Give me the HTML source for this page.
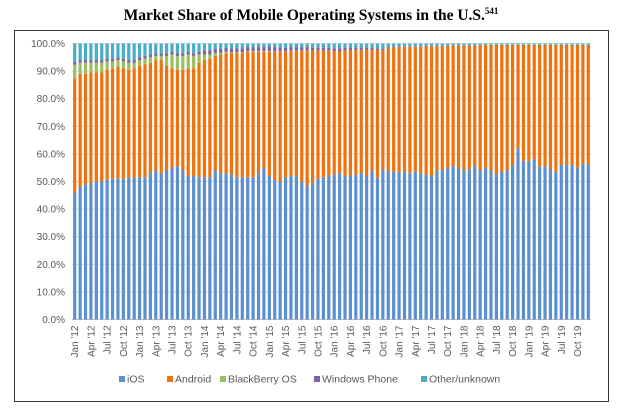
<!DOCTYPE html>
<html><head><meta charset="utf-8"><style>
body{margin:0;background:#fff;}
svg{display:block;font-family:"Liberation Sans",sans-serif;}
</style></head><body>
<svg id="c" width="622" height="412">
<text x="311" y="20" text-anchor="middle" font-family="Liberation Serif,serif" font-weight="bold" font-size="15.5" fill="#000">Market Share of Mobile Operating Systems in the U.S.<tspan font-size="9" dy="-6">541</tspan></text>
<rect x="14.5" y="30.5" width="594" height="371" fill="none" stroke="#333" stroke-width="1"/>
<g id="grid"></g><g id="bars"></g><g id="xl"></g><g id="legend"></g>
</svg>
<script>
const months=["Jan","Feb","Mar","Apr","May","Jun","Jul","Aug","Sep","Oct","Nov","Dec"];
const years=[12,13,14,15,16,17,18,19];
const yTicks=[0,10,20,30,40,50,60,70,80,90,100];
const ios=[46,48,49,49.5,50,50,50.5,51,51,51,51.5,51.5,
51.5,51.5,53,54,53,54,55,55.5,54,52,52,51.5,
51.5,51.5,54,53,53,52.5,51.5,51.5,51.5,51.5,53,55,
52,50.5,50,51.5,52,52,50,48.5,49.5,51,51.5,52,
52.5,53,52,52,52.5,53,52,54,51.5,54.5,53.5,53.5,
53.5,53.5,53,53.5,53,52.5,52,54,54,55,55.5,55,
54,54.5,56,54,55,54,52.5,53.5,54,56,62,57.5,
57.5,58,55.5,55.5,54.5,53.5,56,56,56,55,56.5,56];
const iosAndroidTop=[87.3,89,89,89.5,89.5,89.5,90.5,91,91.5,91,90.5,91,
92,92.5,93,94,94,92,91,90.5,90.5,91,91,93,
94,94.5,95.5,96,96.5,96.5,96.5,96.5,97,97,97,97,
97,97,97,97,97.3,97.3,97.3,97.5,97.5,97.5,97.5,97.5,
97.3,97.3,97.5,97.7,97.7,97.7,97.8,97.8,97.8,97.5,98.5,98.5,
98.7,98.8,98.8,98.8,98.8,99,99,99,99,99.2,99.2,99.2,
99.2,99.3,99.3,99.4,99.5,99.5,99.5,99.5,99.5,99.5,99.5,99.5,
99.5,99.5,99.5,99.5,99.5,99.5,99.5,99.5,99.5,99.5,99.5,99.5];
const blackberry=[5,4,4,3.5,3.5,3.5,3,2.5,2.5,2.5,2.5,2,
2,2,2,1.5,1.5,3.5,5,5,5,5,4.5,3,
2,1.5,1,0.5,0.5,0.3,0.3,0.3,0.2,0.2,0.2,0.2,
0.2,0.1,0.1,0.1,0.1,0.1,0.1,0.1,0,0,0,0,
0,0,0,0,0,0,0,0,0,0,0,0,0,0,0,0,0,0,0,0,0,0,0,0,
0,0,0,0,0,0,0,0,0,0,0,0,0,0,0,0,0,0,0,0,0,0,0,0];
const windows=[1,1,1,1,1,1,1,1,1,1,1,1,
1,1,1,1,1,1,1,1,1,1,1,1,
1.5,1.5,1.5,1.5,1.5,1.5,1.5,1.5,1.5,1.5,1.5,1.5,
1.7,1.7,1.5,1.3,1.3,1.3,1.3,1.2,1,1,1,1,
1,1,1,0.8,0.8,0.8,0.7,0.7,0.5,0.5,0.3,0.3,
0.3,0.2,0.2,0.2,0.2,0.2,0.1,0.1,0.1,0.1,0.1,0.1,
0,0,0,0,0,0,0,0,0,0,0,0,0,0,0,0,0,0,0,0,0,0,0,0];
const seriesNames=["iOS","Android","BlackBerry OS","Windows Phone","Other/unknown"];
const colors=["#5b8fcf","#f0720d","#9bc061","#8064a2","#4bacc6"];
const NS="http://www.w3.org/2000/svg";
const X0=72,X1=591,Y0=319.5,Y100=43.5;
const n=ios.length,slot=(X1-X0)/n;
const y=v=>Y0-(Y0-Y100)*v/100;
const xc=i=>X0+slot*(i+0.5);
function mk(t,a,p){const e=document.createElementNS(NS,t);for(const k in a)e.setAttribute(k,a[k]);p.appendChild(e);return e;}
const grid=document.getElementById('grid');
yTicks.forEach(t=>{
 const l=mk('line',{x1:X0,x2:X1,y1:y(t),y2:y(t),stroke:t===0?'#bfbfbf':'#d9d9d9','stroke-width':1},grid);
 
 
 const tx=mk('text',{x:65,y:y(t)+3.5,'text-anchor':'end','font-size':10,fill:'#595959'},grid);
 tx.textContent=t.toFixed(1)+'%';
 
 
});
const bars=document.getElementById('bars');
for(let i=0;i<n;i++){
 const andr=iosAndroidTop[i]-ios[i];
 const bb=blackberry[i],wp=windows[i];
 const oth=Math.max(0,100-ios[i]-andr-bb-wp);
 const vals=[ios[i],andr,bb,wp,oth];
 let cum=0;
 vals.forEach((v,s)=>{
  if(v<=0)return;
  const r=mk('rect',{x:xc(i)-1.6,width:3.2,y:y(cum+v),height:y(cum)-y(cum+v),fill:colors[s]},bars);
  
  
  cum+=v;
 });
}
const xl=document.getElementById('xl');
for(let i=0;i<n;i+=3){
 const lab=months[i%12]+" '"+years[Math.floor(i/12)];
 const t=mk('text',{x:0,y:0,'text-anchor':'end','font-size':10,fill:'#595959',transform:`translate(${xc(i)+3.5},${Y0+6}) rotate(-90)`},xl);
 t.textContent=lab;
 
 
}
const lg=document.getElementById('legend');
const lx=[119,167,220,314,421];
seriesNames.forEach((s,k)=>{
 const g=mk('g',{},lg);
 
 
 mk('rect',{x:lx[k],y:376,width:6,height:6,fill:colors[k]},g);
 const t=mk('text',{x:lx[k]+8,y:382.5,'font-size':10.5,fill:'#595959'},g);
 t.textContent=s;
});
</script>
</body></html>
